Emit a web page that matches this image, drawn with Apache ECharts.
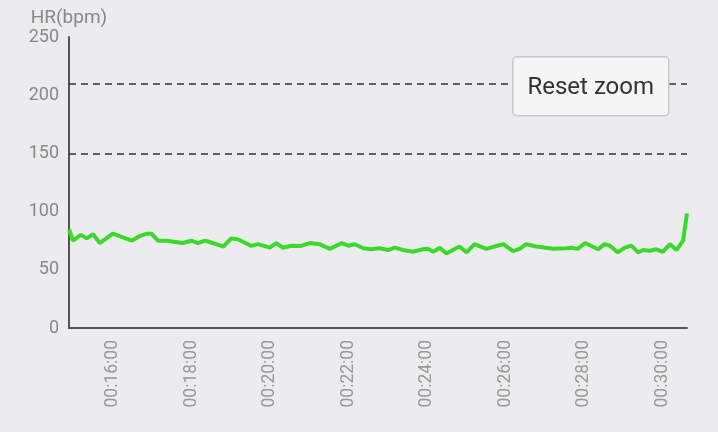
<!DOCTYPE html>
<html>
<head>
<meta charset="utf-8">
<script src="https://cdn.jsdelivr.net/npm/echarts@6/dist/echarts.min.js"></script>
<style>
html,body{margin:0;padding:0;background:#ececee;}
#c{width:718px;height:432px;}
</style>
</head>
<body>
<div id="c"></div>
<script>
// elapsed time in seconds
const times = [893,899,911,920,930,940,960,989,1001,1012,1019,1029,1042,1067,1080,1090,1101,1113,1129,1141,1152,1172,1182,1200,1210,1220,1233,1248,1261,1276,1292,1310,1320,1330,1343,1355,1368,1381,1391,1404,1419,1434,1442,1450,1460,1470,1490,1501,1513,1531,1544,1557,1572,1582,1592,1608,1633,1654,1661,1671,1682,1702,1712,1720,1732,1743,1753,1763,1771,1781,1791,1801,1812,1822,1832,1838];
const hr = [85,75,80,77,80.5,73,81,75,79,81,81,75,75,73,75,73,75,73,70,77,76,70.5,72,69,73,69,70.7,70.5,73,72,68,73,70.7,72,68.5,67.6,68.5,67,69,67,65.5,67.6,68,65.5,69,64,70,65,72,68,70,72,66,68,72,70,68,68.5,69,68,73,67.6,72,70.7,65,69,70.7,65,67,66.4,67.6,65.5,72,67,75,98.5];
const xTicks = [960,1080,1200,1320,1440,1560,1680,1800];
const yTicks = [0,50,100,150,200,250];
const thresholds = [150,210];

function fmt(s){
  const h=Math.floor(s/3600), m=Math.floor((s%3600)/60), sec=Math.round(s%60);
  const p=n=>String(n).padStart(2,'0');
  return p(h)+':'+p(m)+':'+p(sec);
}

const chart = echarts.init(document.getElementById('c'));
chart.setOption({
  backgroundColor:'#ececee',
  animation:false,
  textStyle:{fontFamily:'Roboto'},
  grid:{left:69,right:31,top:37,bottom:104},
  xAxis:{
    type:'value',
    min:times[0], max:times[times.length-1],
    axisLine:{show:true,lineStyle:{color:'#555',width:2}},
    axisTick:{show:false},
    splitLine:{show:false},
    axisLabel:{
      customValues:xTicks,
      rotate:90, margin:12,
      color:'#999', fontSize:17.5, fontFamily:'Roboto',
      formatter:v=>fmt(v)
    }
  },
  yAxis:{
    type:'value',
    min:yTicks[0], max:yTicks[yTicks.length-1], interval:50,
    name:'HR(bpm)', nameGap:6,
    nameTextStyle:{color:'#888',fontSize:19,fontFamily:'Roboto'},
    axisLine:{show:true,lineStyle:{color:'#555',width:2}},
    axisTick:{show:false},
    splitLine:{show:false},
    axisLabel:{color:'#888',fontSize:18,margin:10,padding:[8,0,0,0],fontFamily:'Roboto'}
  },
  series:[{
    type:'line',
    data:times.map((t,i)=>[t,hr[i]]),
    showSymbol:false,
    lineStyle:{color:'#3dd82c',width:4},
    markLine:{
      silent:true, symbol:'none',
      label:{show:false},
      lineStyle:{color:'#333',type:[7,5],width:1.5},
      data:thresholds.map(v=>({yAxis:v}))
    }
  }],
  graphic:[{
    type:'group', left:512, top:56, z:100,
    children:[
      {type:'rect',z:100,shape:{x:0,y:0,width:156,height:59,r:4},style:{fill:'#f5f5f5',stroke:'#c8c8c8',lineWidth:1.5}},
      {type:'text',z:101,style:{x:78,y:31,text:'Reset zoom',fill:'#333',font:'24px Roboto',align:'center',verticalAlign:'middle'}}
    ]
  }]
});
</script>
</body>
</html>
